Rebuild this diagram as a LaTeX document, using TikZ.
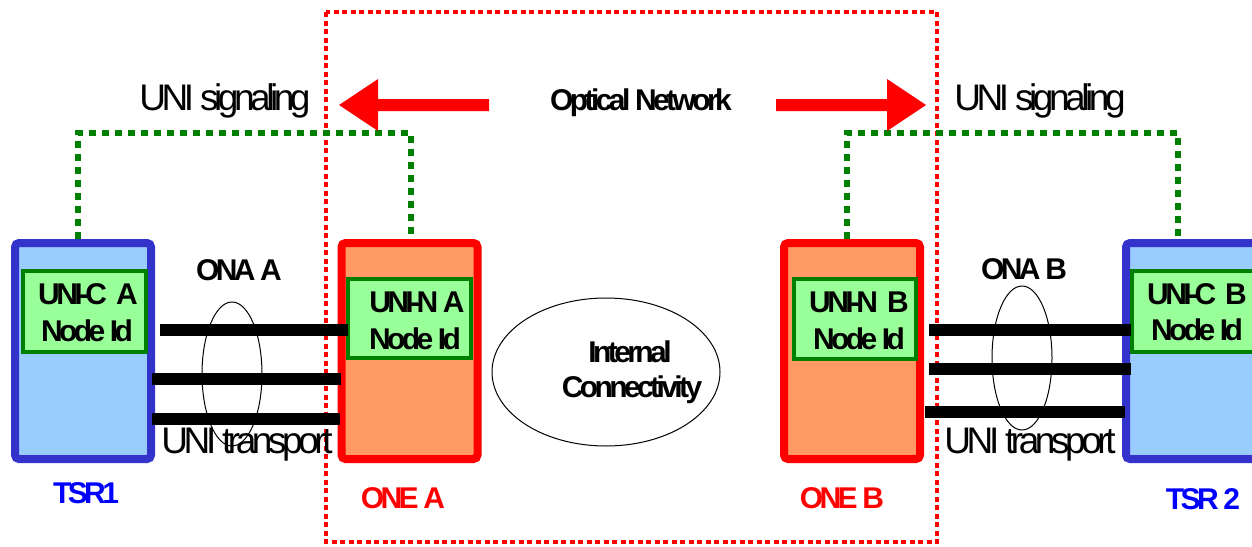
\documentclass[tikz,border=0pt]{standalone}
\usepackage{fontspec}
\setmainfont{Liberation Sans}
\newfontfamily\tightfont{Liberation Sans}[LetterSpace=-12]
\usetikzlibrary{calc,shapes.geometric}
\definecolor{tsrblue}{RGB}{51,51,204}
\definecolor{tsrfill}{RGB}{153,204,255}
\definecolor{onefill}{RGB}{255,153,102}
\definecolor{idgreen}{RGB}{0,128,0}
\definecolor{idfill}{RGB}{153,255,153}
\definecolor{labblue}{RGB}{0,0,255}
\begin{document}
\begin{tikzpicture}[x=1pt,y=-1pt,
  tsrbox/.style={draw=tsrblue,fill=tsrfill,line width=8pt,rounded corners=4pt,minimum width=136pt,minimum height=216pt,inner sep=0pt},
  onebox/.style={draw=red,fill=onefill,line width=8pt,rounded corners=4pt,minimum width=136pt,minimum height=216pt,inner sep=0pt},
  idbox/.style={draw=idgreen,fill=idfill,line width=4pt,minimum width=123pt,minimum height=81pt,inner sep=0pt},
  boldtxt/.style={font=\tightfont\bfseries\fontsize{30}{34}\selectfont,inner sep=0pt,anchor=base},
  bigtxt/.style={font=\tightfont\fontsize{37}{40}\selectfont,inner sep=0pt,anchor=base},
  sig/.style={draw=idgreen,line width=6pt,dash pattern=on 7pt off 6pt},
  wire/.style={draw=black,line width=12pt},
  ona/.style={draw=black,line width=1pt},
  netarrow/.style={fill=red,draw=none},
  netframe/.style={draw=red,line width=4.5pt,dash pattern=on 5pt off 3.5pt}]
\useasboundingbox (0,0) rectangle (1252,546);
\clip (0,0) rectangle (1252,546);

% optical network frame
\draw[netframe] (326,12) rectangle (937,542);

% boxes
\node[tsrbox] (tsr1) at (83,351) {};
\node[onebox] (onea) at (409.5,351) {};
\node[onebox] (oneb) at (852,351) {};
\node[tsrbox] (tsr2) at (1194,351) {};
\node[idbox] (unica) at (84.5,311.5) {};
\node[idbox,minimum height=79pt] (unina) at (409.5,318.5) {};
\node[idbox,minimum width=122pt,minimum height=80pt] (uninb) at (855,319) {};
\node[idbox] (unicb) at (1193.5,311.5) {};

% box texts
\node[boldtxt] (tca1) at (88,304) {UNI-C\hspace{9pt}A};
\node[boldtxt] (tca2) at (87,341) {Node Id};
\node[boldtxt] (tna1) at (417,312) {UNI-N A};
\node[boldtxt] (tna2) at (415,349) {Node Id};
\node[boldtxt] (tnb1) at (859,312) {UNI-N\hspace{9pt}B};
\node[boldtxt] (tnb2) at (859,349) {Node Id};
\node[boldtxt] (tcb1) at (1197,304) {UNI-C\hspace{9pt}B};
\node[boldtxt] (tcb2) at (1197,340) {Node Id};

% signaling paths
\draw[sig] ($(tsr1.north)+(-5,0)$) -- ++(0,-106) -| ($(onea.north)+(1.5,0)$);
\draw[sig] ($(oneb.north)+(-5,0)$) -- ++(0,-106) -| ($(tsr2.north)+(-16,0)$);

% ONA ellipses
\draw[ona] (232,374) ellipse [x radius=30, y radius=72];
\draw[ona] (1022,358) ellipse [x radius=30, y radius=72];
\draw[ona] (606,372) ellipse [x radius=114, y radius=74];

% transport wires
\draw[wire] ($(tsr1.east)+(5,-21)$) -- ($(unina.west)+(2,11.5)$);
\draw[wire] ($(tsr1.east)+(-3,28)$) -- ($(onea.west)+(3,28)$);
\draw[wire] ($(tsr1.east)+(-3,68)$) -- ($(onea.west)+(2,68)$);
\draw[wire] ($(oneb.east)+(5,-21)$) -- ($(unicb.west)+(1,18.5)$);
\draw[wire] ($(oneb.east)+(5,18)$) -- ($(tsr2.west)+(9,18)$);
\draw[wire] ($(oneb.east)+(1,61)$) -- ($(tsr2.west)+(3,61)$);

% arrows
\fill[netarrow] (489,99) -- (378,99) -- (378,79) -- (339,105) -- (378,131) -- (378,111) -- (489,111) -- cycle;
\fill[netarrow] (776,99) -- (887,99) -- (887,79) -- (926,105) -- (887,131) -- (887,111) -- (776,111) -- cycle;

% labels
\node[bigtxt] (sigl) at (225,110) {UNI signaling};
\node[bigtxt] (sigr) at (1040,110) {UNI signaling};
\node[boldtxt] (opt) at (641,110) {Optical Network};
\node[bigtxt] (trl) at (247,453) {UNI transport};
\node[bigtxt] (trr) at (1030,453) {UNI transport};
\node[boldtxt] (onaa) at (239,280) {ONA A};
\node[boldtxt] (onab) at (1024,279) {ONA B};
\node[boldtxt] (ic1) at (630,362) {Internal};
\node[boldtxt] (ic2) at (632,397) {Connectivity};
\node[boldtxt,text=labblue] (ltsr1) at (86,503) {TSR1};
\node[boldtxt,text=labblue] (ltsr2) at (1203,509) {TSR 2};
\node[boldtxt,text=red] (lonea) at (403,508) {ONE A};
\node[boldtxt,text=red] (loneb) at (842,508) {ONE B};
\end{tikzpicture}
\end{document}
